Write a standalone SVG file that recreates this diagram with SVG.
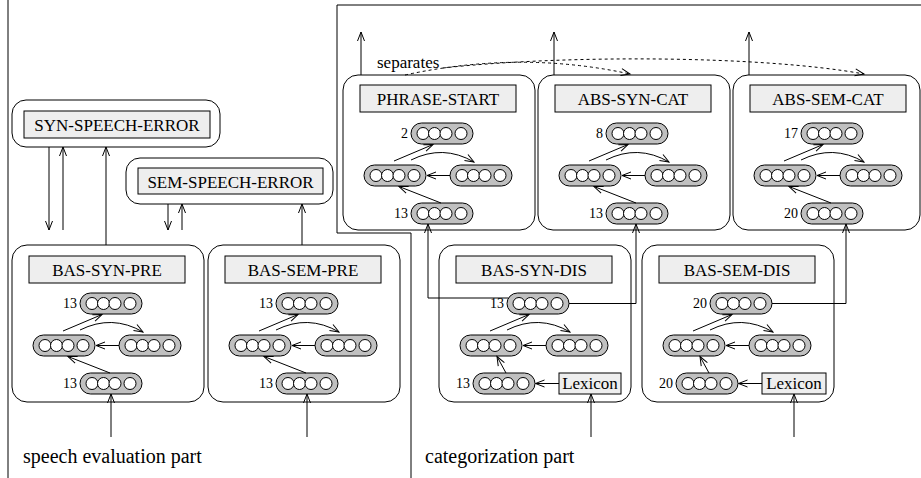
<svg xmlns="http://www.w3.org/2000/svg" width="921" height="478" viewBox="0 0 921 478">
  <style>
    .box { fill: #fff; stroke: #000; stroke-width: 1; }
    .lbl { fill: #eeeeee; stroke: #000; stroke-width: 1; }
    .pill { fill: #c0c0c0; stroke: #000; stroke-width: 1; }
    .dot { fill: #fff; stroke: #000; stroke-width: 1; }
    .ln { fill: none; stroke: #000; stroke-width: 1; }
    .arr { marker-end: url(#ah); }
    .dash { stroke-dasharray: 3 3; }
    text { font-family: "Liberation Serif", "Times New Roman", serif; fill: #000; }
    .t17 { font-size: 17px; text-anchor: middle; }
    .num { font-size: 14px; text-anchor: end; }
    .part { font-size: 20px; }
  </style>
  <defs>
    <marker id="ah" markerUnits="userSpaceOnUse" markerWidth="12" markerHeight="10" viewBox="-10 -5 12 10" refX="0" refY="0" orient="auto" overflow="visible">
      <path d="M-9,-3.5 L0,0 L-9,3.5" fill="none" stroke="#000" stroke-width="1" stroke-dasharray="none"/>
    </marker>
    <!-- one layer of four units: three grouped, one apart -->
    <g id="pill">
      <rect class="pill" width="62" height="21" rx="10.5"/>
      <circle class="dot" cx="12" cy="10.5" r="6"/>
      <circle class="dot" cx="23.5" cy="10.5" r="6"/>
      <circle class="dot" cx="35" cy="10.5" r="6"/>
      <circle class="dot" cx="50" cy="10.5" r="6"/>
    </g>
  </defs>

  <!-- frame lines separating the two parts -->
  <g id="frame" class="ln">
    <path d="M8 0 V478"/>
    <path d="M921 5 H337 V233 H411 V478"/>
  </g>

  <!-- speech evaluation part -->
  <g id="syn-speech-error">
    <rect class="box" x="12" y="100" width="208" height="47" rx="14"/>
    <rect class="lbl" x="24" y="111" width="186" height="27"/>
    <text class="t17" x="117" y="131">SYN-SPEECH-ERROR</text>
  </g>
  <g id="sem-speech-error">
    <rect class="box" x="126" y="158" width="207" height="46" rx="14"/>
    <rect class="lbl" x="138" y="168" width="185" height="26"/>
    <text class="t17" x="230.5" y="187.5">SEM-SPEECH-ERROR</text>
  </g>

  <g id="bas-syn-pre" transform="translate(12,245)">
    <rect class="box" width="192" height="157" rx="15"/>
    <rect class="lbl" x="17" y="11" width="156" height="27"/>
    <text class="t17" x="95" y="30.5">BAS-SYN-PRE</text>
    <use href="#pill" x="68" y="48"/>
    <use href="#pill" x="21" y="90"/>
    <use href="#pill" x="107" y="90"/>
    <use href="#pill" x="68" y="128"/>
    <text class="num" x="65" y="63">13</text>
    <text class="num" x="65" y="143">13</text>
    <path class="ln arr" d="M51 86 L90 69.5"/>
    <path class="ln arr" d="M68 85 Q100 69 131 87"/>
    <path class="ln arr" d="M107 100.5 L84 100.5"/>
    <path class="ln arr" d="M98 128 L56 111.5"/>
  </g>

  <g id="bas-sem-pre" transform="translate(208,245)">
    <rect class="box" width="192" height="157" rx="15"/>
    <rect class="lbl" x="17" y="11" width="156" height="27"/>
    <text class="t17" x="95" y="30.5">BAS-SEM-PRE</text>
    <use href="#pill" x="68" y="48"/>
    <use href="#pill" x="21" y="90"/>
    <use href="#pill" x="107" y="90"/>
    <use href="#pill" x="68" y="128"/>
    <text class="num" x="65" y="63">13</text>
    <text class="num" x="65" y="143">13</text>
    <path class="ln arr" d="M51 86 L90 69.5"/>
    <path class="ln arr" d="M68 85 Q100 69 131 87"/>
    <path class="ln arr" d="M107 100.5 L84 100.5"/>
    <path class="ln arr" d="M98 128 L56 111.5"/>
  </g>

  <!-- categorization part -->
  <g id="phrase-start" transform="translate(343,75)">
    <rect class="box" width="192" height="155" rx="15"/>
    <rect class="lbl" x="17" y="10" width="156" height="27"/>
    <text class="t17" x="95" y="29.5">PHRASE-START</text>
    <use href="#pill" x="68" y="48"/>
    <use href="#pill" x="21" y="90"/>
    <use href="#pill" x="107" y="90"/>
    <use href="#pill" x="68" y="128"/>
    <text class="num" x="65" y="63">2</text>
    <text class="num" x="65" y="143">13</text>
    <path class="ln arr" d="M51 86 L90 69.5"/>
    <path class="ln arr" d="M68 85 Q100 69 131 87"/>
    <path class="ln arr" d="M107 100.5 L84 100.5"/>
    <path class="ln arr" d="M98 128 L56 111.5"/>
  </g>

  <g id="abs-syn-cat" transform="translate(538,75)">
    <rect class="box" width="192" height="155" rx="15"/>
    <rect class="lbl" x="17" y="10" width="156" height="27"/>
    <text class="t17" x="95" y="29.5">ABS-SYN-CAT</text>
    <use href="#pill" x="68" y="48"/>
    <use href="#pill" x="21" y="90"/>
    <use href="#pill" x="107" y="90"/>
    <use href="#pill" x="68" y="128"/>
    <text class="num" x="65" y="63">8</text>
    <text class="num" x="65" y="143">13</text>
    <path class="ln arr" d="M51 86 L90 69.5"/>
    <path class="ln arr" d="M68 85 Q100 69 131 87"/>
    <path class="ln arr" d="M107 100.5 L84 100.5"/>
    <path class="ln arr" d="M98 128 L56 111.5"/>
  </g>

  <g id="abs-sem-cat" transform="translate(733,75)">
    <rect class="box" width="187" height="155" rx="15"/>
    <rect class="lbl" x="17" y="10" width="156" height="27"/>
    <text class="t17" x="95" y="29.5">ABS-SEM-CAT</text>
    <use href="#pill" x="68" y="48"/>
    <use href="#pill" x="21" y="90"/>
    <use href="#pill" x="107" y="90"/>
    <use href="#pill" x="68" y="128"/>
    <text class="num" x="65" y="63">17</text>
    <text class="num" x="65" y="143">20</text>
    <path class="ln arr" d="M51 86 L90 69.5"/>
    <path class="ln arr" d="M68 85 Q100 69 131 87"/>
    <path class="ln arr" d="M107 100.5 L84 100.5"/>
    <path class="ln arr" d="M98 128 L56 111.5"/>
  </g>

  <g id="bas-syn-dis" transform="translate(439,245)">
    <rect class="box" width="192" height="157" rx="15"/>
    <rect class="lbl" x="17" y="11" width="156" height="27"/>
    <text class="t17" x="95" y="30.5">BAS-SYN-DIS</text>
    <use href="#pill" x="68" y="48"/>
    <use href="#pill" x="21" y="90"/>
    <use href="#pill" x="107" y="90"/>
    <use href="#pill" x="34" y="128"/>
    <rect class="lbl" x="120" y="128" width="62" height="21"/>
    <text class="t17" x="151" y="144">Lexicon</text>
    <text class="num" x="65" y="63">13</text>
    <text class="num" x="31" y="143">13</text>
    <path class="ln arr" d="M51 86 L90 69.5"/>
    <path class="ln arr" d="M68 85 Q100 69 131 87"/>
    <path class="ln arr" d="M107 100.5 L84 100.5"/>
    <path class="ln arr" d="M67 128 L58 111.5"/>
    <path class="ln arr" d="M120 138.5 L96.5 138.5"/>
  </g>

  <g id="bas-sem-dis" transform="translate(642,245)">
    <rect class="box" width="192" height="157" rx="15"/>
    <rect class="lbl" x="17" y="11" width="156" height="27"/>
    <text class="t17" x="95" y="30.5">BAS-SEM-DIS</text>
    <use href="#pill" x="68" y="48"/>
    <use href="#pill" x="21" y="90"/>
    <use href="#pill" x="107" y="90"/>
    <use href="#pill" x="34" y="128"/>
    <rect class="lbl" x="120" y="128" width="64" height="21"/>
    <text class="t17" x="152" y="144">Lexicon</text>
    <text class="num" x="65" y="63">20</text>
    <text class="num" x="31" y="143">20</text>
    <path class="ln arr" d="M51 86 L90 69.5"/>
    <path class="ln arr" d="M68 85 Q100 69 131 87"/>
    <path class="ln arr" d="M107 100.5 L84 100.5"/>
    <path class="ln arr" d="M67 128 L58 111.5"/>
    <path class="ln arr" d="M120 138.5 L96.5 138.5"/>
  </g>

  <!-- connections between modules -->
  <g id="connectors" class="ln">
    <path class="arr" d="M49 147 V230"/>
    <path class="arr" d="M63 230 V147"/>
    <path class="arr" d="M106 245 V147"/>
    <path class="arr" d="M168 204 V230"/>
    <path class="arr" d="M182 230 V204"/>
    <path class="arr" d="M302 245 V204"/>
    <path class="arr" d="M111 437 V394"/>
    <path class="arr" d="M307 437 V394"/>
    <path class="arr" d="M591 437 V394"/>
    <path class="arr" d="M794 437 V394"/>
    <path class="arr" d="M361 75 V32"/>
    <path class="arr" d="M554 75 V32"/>
    <path class="arr" d="M749 75 V32"/>
    <path class="arr" d="M508.5 298 H428 V224"/>
    <path class="arr" d="M569 303.5 H636 V224"/>
    <path class="arr" d="M772 303.5 H846 V224"/>
    <path class="arr dash" d="M405 75 Q520 50 630 74"/>
    <path class="arr dash" d="M443 68 C560 55 760 55 864 74"/>
  </g>

  <text x="377" y="68" font-size="17">separates</text>
  <text class="part" x="23" y="463">speech evaluation part</text>
  <text class="part" x="425" y="463">categorization part</text>
</svg>
